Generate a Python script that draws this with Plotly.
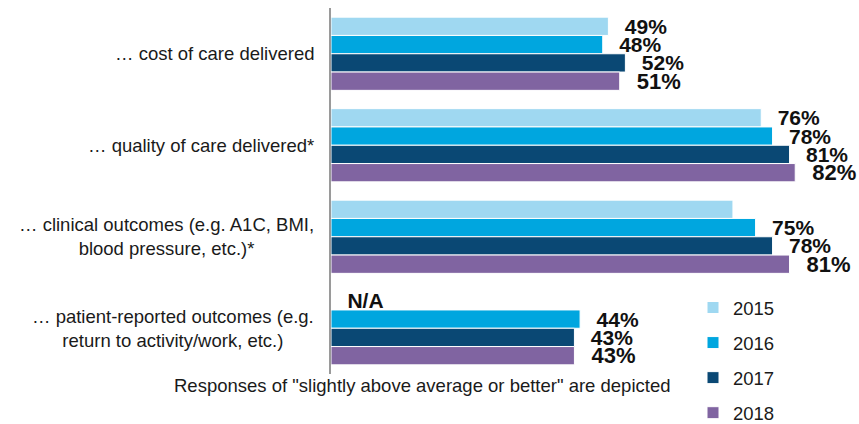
import plotly.graph_objects as go

categories = ["cost", "quality", "clinical", "patient"]
category_labels = [
    "… cost of care delivered",
    "… quality of care delivered*",
    "… clinical outcomes (e.g. A1C, BMI,<br>blood pressure, etc.)*",
    "… patient-reported outcomes (e.g.<br>return to activity/work, etc.)",
]
years = ["2015", "2016", "2017", "2018"]
values = {
    "2015": [49, 76, 71, None],
    "2016": [48, 78, 75, 44],
    "2017": [52, 81, 78, 43],
    "2018": [51, 82, 81, 43],
}
# which value labels are printed in the source chart
show_label = {
    "2015": [True, True, False, True],
    "2016": [True, True, True, True],
    "2017": [True, True, True, True],
    "2018": [True, True, True, True],
}
colors = {"2015": "#9FD8F1", "2016": "#00A6DF", "2017": "#0A4874", "2018": "#8064A1"}
label_sizes = {"2015": 21, "2016": 21, "2017": 21, "2018": 22}
footnote = 'Responses of "slightly above average or better" are depicted'

SP = "\u00a0\u00a0\u200a"
fig = go.Figure()
for yr in years:
    xs, txt = [], []
    for v, s in zip(values[yr], show_label[yr]):
        if v is None:
            xs.append(0)
            txt.append(SP + "N/A")
        else:
            xs.append(v)
            txt.append(SP + f"{v}%" if s else "")
    fig.add_trace(go.Bar(
        y=categories, x=xs, name=yr, orientation="h",
        marker=dict(color=colors[yr], line=dict(color="white", width=1)),
        text=txt, textposition="outside", cliponaxis=False, constraintext="none",
        textfont=dict(family="Liberation Sans", size=label_sizes[yr], color="#111111", weight="bold"),
        legendgroup=yr, hoverinfo="skip",
    ))

W = 859 - 331 - 10
for cat, lab in zip(categories, category_labels):
    fig.add_annotation(x=0, xref="paper", y=cat, yref="y", text=lab, showarrow=False,
                       xanchor="right", xshift=-15, align="center",
                       font=dict(family="Liberation Sans", size=18.5, color="#1a1a1a"))

fig.add_annotation(x=(422 - 331) / W, xref="paper", y=-11 / 366, yref="paper", text=footnote,
                   showarrow=False, xanchor="center", yanchor="middle",
                   font=dict(family="Liberation Sans", size=18.5, color="#1a1a1a"))

fig.update_layout(
    width=859, height=424,
    margin=dict(l=331, r=10, t=8, b=50, autoexpand=False),
    paper_bgcolor="white", plot_bgcolor="white",
    barmode="group", bargap=0.2, bargroupgap=0,
    showlegend=True,
    legend=dict(xref="container", yref="container", x=693 / 859, y=1 - 289 / 424,
                xanchor="left", yanchor="top", traceorder="grouped", tracegroupgap=8,
                font=dict(family="Liberation Sans", size=18.5, color="#1a1a1a"),
                bgcolor="rgba(0,0,0,0)"),
    xaxis=dict(range=[0, 91.5], visible=False, showgrid=False, zeroline=False),
    yaxis=dict(autorange="reversed", showticklabels=False, showgrid=False, zeroline=False,
               showline=True, linecolor="#9a9a9a", linewidth=2, ticks=""),
    font=dict(family="Liberation Sans"),
)

fig.write_html("out.html")
